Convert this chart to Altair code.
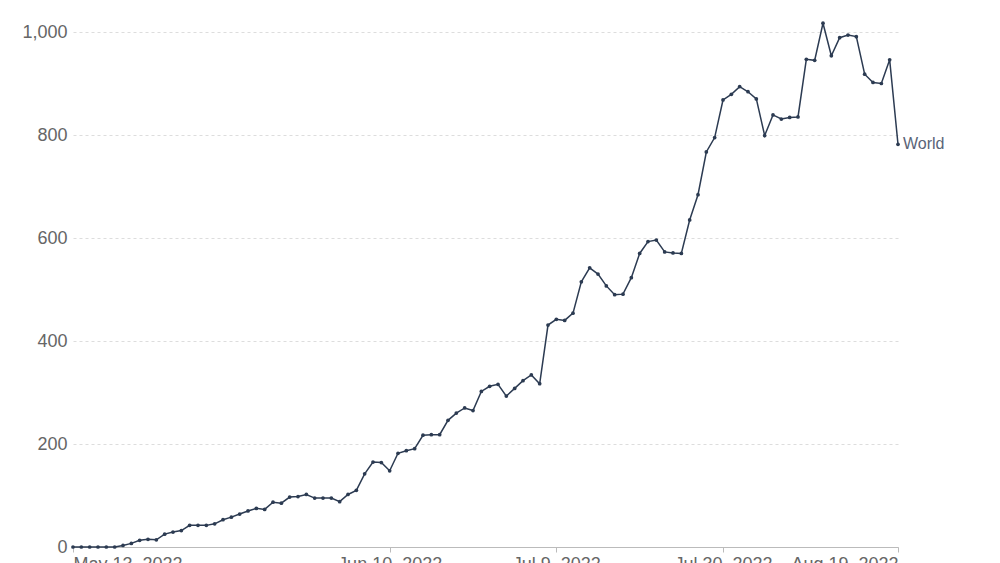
import altair as alt
import pandas as pd

# ---- data ----
point_index = list(range(100))
cases = [0, 0, 0, 0, 0, 0, 3, 7, 13, 15,
         14, 25, 29, 32, 42, 42, 42, 45, 53, 58,
         64, 70, 75, 73, 87, 85, 97, 98, 102, 95,
         95, 95, 88, 102, 110, 142, 165, 164, 148, 182,
         187, 191, 217, 218, 218, 246, 260, 270, 265, 302,
         312, 316, 293, 308, 323, 334, 317, 431, 442, 440,
         454, 515, 542, 530, 507, 490, 491, 523, 570, 593,
         596, 573, 571, 570, 635, 684, 767, 795, 868, 879,
         894, 884, 870, 799, 839, 831, 834, 835, 947, 945,
         1017, 954, 989, 994, 991, 918, 902, 900, 946, 782]
tick_positions = [0, 38, 58, 78, 99]
tick_labels = ["May 13, 2022", "Jun 10, 2022", "Jul 9, 2022", "Jul 30, 2022", "Aug 19, 2022"]
y_ticks = [0, 200, 400, 600, 800, 1000]
series_name = "World"

df = pd.DataFrame({"i": point_index, "cases": cases})
last = pd.DataFrame({"i": [point_index[-1]], "cases": [cases[-1]], "name": [series_name]})

label_expr = " : ".join(
    f"datum.value == {p} ? '{l}'" for p, l in zip(tick_positions, tick_labels)
) + " : ''"

FONT = "Liberation Sans, Arial, sans-serif"
LINE = "#2c3b52"

x_enc = alt.X(
    "i:Q",
    scale=alt.Scale(domain=[0, 99], nice=False, zero=False),
    axis=alt.Axis(
        values=tick_positions, labelExpr=label_expr, title=None, grid=False,
        domainColor="#bbbbbb", tickColor="#bbbbbb", tickSize=5,
        labelFontSize=18, labelColor="#666666", labelPadding=3,
        labelFlush=True, labelOverlap=False, labelFont=FONT,
    ),
)
y_enc = alt.Y(
    "cases:Q",
    scale=alt.Scale(domain=[0, 1000], nice=False),
    axis=alt.Axis(
        values=y_ticks, format=",.0f", title=None, domain=False, ticks=False,
        grid=True, gridDash=[3, 3], gridColor="#dddddd",
        labelFontSize=18, labelColor="#666666", labelPadding=6, labelFont=FONT,
    ),
)

line = alt.Chart(df).mark_line(
    color=LINE, strokeWidth=1.5,
    point=alt.OverlayMarkDef(color=LINE, size=14, filled=True, opacity=1),
).encode(x=x_enc, y=y_enc)

label = alt.Chart(last).mark_text(
    align="left", baseline="middle", dx=5, fontSize=16, color="#5a6478", font=FONT
).encode(x="i:Q", y="cases:Q", text="name:N")

chart = (line + label).properties(
    width=825, height=515,
    autosize=alt.AutoSizeParams(type="none"),
    padding={"left": 65, "top": 24, "right": 94, "bottom": 16},
    background="white",
).configure_view(stroke=None)

chart.save("out.html", embed_options={"renderer": "svg", "actions": False})
